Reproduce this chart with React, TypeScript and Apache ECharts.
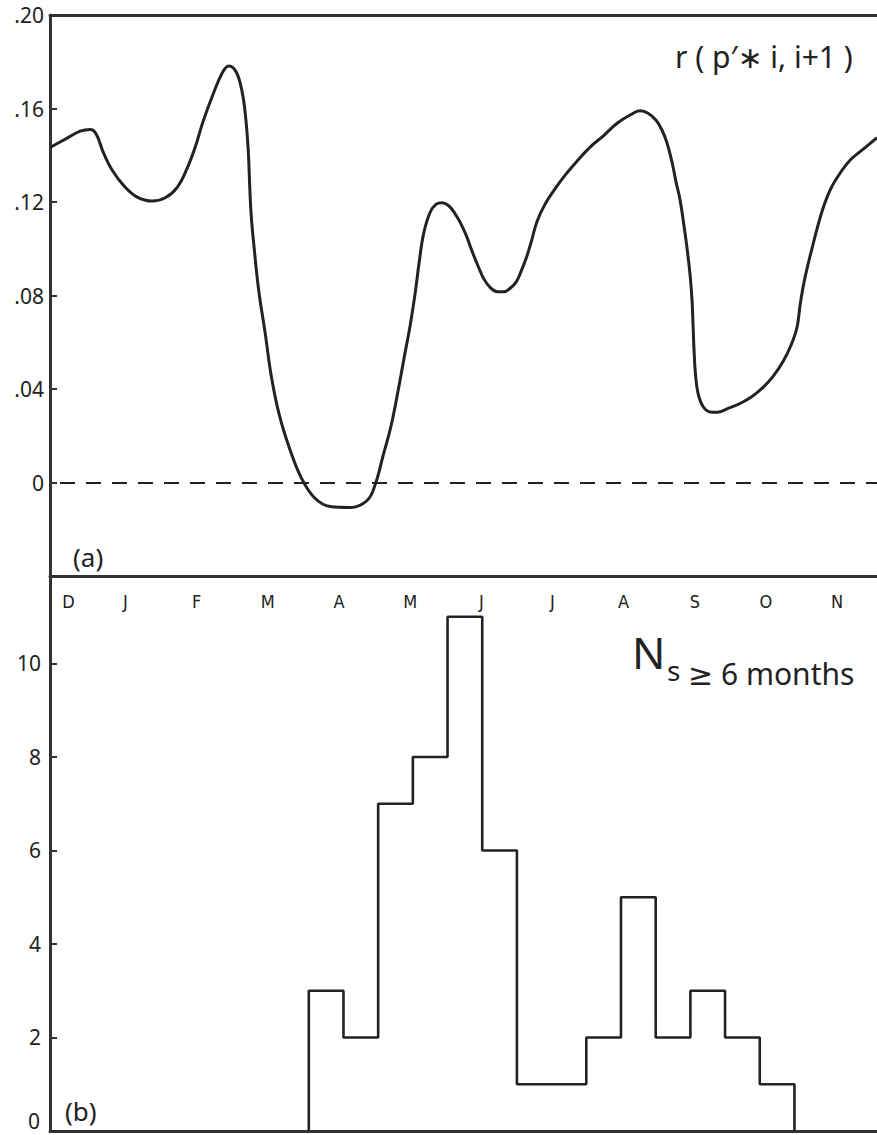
import React, { useEffect, useRef } from "react";
import * as echarts from "echarts";

// (a) Serial correlation r(p'*_{i,i+1}) traced along the year.
// x is measured in months counted from 1 December.
const corrMonth = [
  0.27, 0.504, 0.706, 0.85, 0.937, 1.037, 1.167, 1.34, 1.527, 1.744, 1.931,
  2.104, 2.248, 2.363, 2.478, 2.622, 2.752, 2.846, 2.954, 3.04, 3.091, 3.127,
  3.148, 3.17, 3.213, 3.278, 3.372, 3.458, 3.573, 3.718, 3.89, 4.078, 4.308,
  4.597, 4.841, 4.957, 5.072, 5.187, 5.288, 5.375, 5.461, 5.533, 5.591, 5.656,
  5.749, 5.836, 5.922, 6.009, 6.095, 6.182, 6.268, 6.354, 6.441, 6.527, 6.614,
  6.715, 6.816, 6.902, 6.988, 7.061, 7.133, 7.205, 7.291, 7.406, 7.536, 7.695,
  7.867, 8.055, 8.242, 8.444, 8.631, 8.775, 8.89, 9.006, 9.092, 9.164, 9.236,
  9.294, 9.352, 9.409, 9.452, 9.496, 9.524, 9.539, 9.553, 9.575, 9.611, 9.683,
  9.784, 9.885, 10.043, 10.216, 10.389, 10.548, 10.692, 10.836, 10.951, 11.037,
  11.081, 11.124, 11.182, 11.254, 11.34, 11.427, 11.527, 11.657, 11.801,
  11.974, 12.19,
];
const corrValue = [
  0.1433, 0.1471, 0.1503, 0.151, 0.149, 0.1413, 0.1336, 0.1268, 0.1221, 0.1204,
  0.1218, 0.1263, 0.1345, 0.1435, 0.1546, 0.1662, 0.1752, 0.1782, 0.1756,
  0.167, 0.1559, 0.1422, 0.1272, 0.1143, 0.1002, 0.0822, 0.0638, 0.0458,
  0.0291, 0.015, 0.0021, -0.0064, -0.0103, -0.0107, -0.0077, -0.0009, 0.0116,
  0.0244, 0.0394, 0.0535, 0.0672, 0.0809, 0.0942, 0.1066, 0.1156, 0.1191,
  0.1197, 0.1186, 0.1156, 0.1113, 0.1058, 0.0989, 0.0925, 0.0869, 0.0835,
  0.0816, 0.0816, 0.0831, 0.0857, 0.0904, 0.0959, 0.1028, 0.1118, 0.1191,
  0.1251, 0.1315, 0.1375, 0.1435, 0.1482, 0.1537, 0.1572, 0.159, 0.158, 0.155,
  0.1507, 0.1452, 0.137, 0.1285, 0.1208, 0.1096, 0.1002, 0.0887, 0.0779,
  0.0672, 0.0565, 0.0458, 0.0381, 0.0325, 0.0302, 0.0301, 0.0317, 0.0338,
  0.0368, 0.0407, 0.0454, 0.0518, 0.0587, 0.0664, 0.0758, 0.0835, 0.0916,
  0.1002, 0.1101, 0.1186, 0.1259, 0.1323, 0.1379, 0.1422, 0.1475,
];

// (b) Half-monthly counts of N_s >= 6 months, first bin starting 1 April.
const countStartMonth = 4;
const countBinWidth = 0.5;
const counts = [3, 2, 7, 8, 11, 6, 1, 1, 2, 5, 2, 3, 2, 1];

// Month initials along the top of panel (b).
const monthLabels = ["D", "J", "F", "M", "A", "M", "J", "J", "A", "S", "O", "N"];
const monthLabelAt = [0.2, 1, 2, 3, 4, 5, 6, 7, 8, 9, 10, 11];

const xMin = 0.27;
const xMax = 12.19;
const countMax = 11.87;

const INK = "#222";
const AXIS_INK = "#333";
const FONT = '"Noto Sans", "DejaVu Sans", sans-serif';

function buildOption() {
  const curve = corrMonth.map((m, i) => [m, corrValue[i]]);
  const steps: number[][] = [[countStartMonth, 0]];
  counts.forEach((c, i) => steps.push([countStartMonth + i * countBinWidth, c]));
  steps.push([countStartMonth + counts.length * countBinWidth, 0]);

  const frameLine = { show: true, onZero: false, lineStyle: { color: AXIS_INK, width: 3 } };
  const plainX = {
    type: "value",
    min: xMin,
    max: xMax,
    axisTick: { show: false },
    axisLabel: { show: false },
    splitLine: { show: false },
  };
  const tick = { show: true, inside: true, length: 7, lineStyle: { color: AXIS_INK, width: 2 } };

  return {
    animation: false,
    backgroundColor: "#fff",
    grid: [
      { left: 50, right: 0, top: 15, height: 561 },
      { left: 50, right: 0, top: 576, height: 555 },
    ],
    xAxis: [
      { ...plainX, gridIndex: 0, position: "bottom", axisLine: frameLine },
      { ...plainX, gridIndex: 0, position: "top", axisLine: frameLine },
      { ...plainX, gridIndex: 1, position: "bottom", axisLine: frameLine },
      {
        gridIndex: 1,
        type: "value",
        position: "top",
        min: -0.06,
        max: 11.56,
        axisLine: { show: false },
        axisTick: { show: false },
        splitLine: { show: false },
        axisLabel: {
          inside: true,
          margin: 16,
          customValues: monthLabelAt,
          formatter: (v: number) => monthLabels[Math.round(v)] ?? "",
          color: INK,
          fontSize: 18,
          fontFamily: '"Liberation Sans Narrow", "DejaVu Sans Condensed", "Noto Sans", sans-serif',
        },
      },
    ],
    yAxis: [
      {
        gridIndex: 0,
        type: "value",
        position: "left",
        min: -0.04,
        max: 0.2,
        interval: 0.04,
        axisLine: frameLine,
        axisTick: tick,
        splitLine: { show: false },
        axisLabel: {
          margin: 6,
          color: INK,
          fontSize: 21,
          fontFamily: FONT,
          formatter: (v: number) => {
            if (v < -1e-9) return "";
            if (Math.abs(v) < 1e-9) return "0";
            return v.toFixed(2).replace(/^0/, "");
          },
        },
      },
      {
        gridIndex: 1,
        type: "value",
        position: "left",
        min: 0,
        max: countMax,
        interval: 2,
        axisLine: frameLine,
        axisTick: tick,
        splitLine: { show: false },
        axisLabel: {
          margin: 9,
          color: INK,
          fontSize: 21,
          fontFamily: FONT,
          showMaxLabel: false,
          formatter: (v: number) => (Math.abs(v % 2) > 1e-9 || v === 0 ? "" : String(v)),
        },
      },
      {
        // the zero label of panel (b) sits just above the bottom frame
        gridIndex: 1,
        type: "value",
        position: "left",
        offset: 0,
        min: 0,
        max: countMax,
        axisLine: { show: false },
        axisTick: { show: false },
        splitLine: { show: false },
        axisLabel: {
          margin: 10,
          color: INK,
          fontSize: 21,
          fontFamily: FONT,
          verticalAlign: "bottom",
          customValues: [0],
          formatter: (v: number) => String(v),
        },
      },
    ],
    series: [
      {
        type: "line",
        xAxisIndex: 0,
        yAxisIndex: 0,
        data: curve,
        smooth: 0.4,
        showSymbol: false,
        lineStyle: { color: INK, width: 3 },
        markLine: {
          silent: true,
          symbol: ["none", "none"],
          label: { show: false },
          lineStyle: { color: INK, width: 2, type: [15, 11], dashOffset: 16 },
          data: [{ yAxis: 0 }],
        },
      },
      {
        type: "line",
        xAxisIndex: 2,
        yAxisIndex: 1,
        data: steps,
        step: "end",
        showSymbol: false,
        lineStyle: { color: INK, width: 2.6 },
      },
    ],
    graphic: [
      {
        type: "text",
        style: { x: 675, y: 56, text: "r ( p′∗ i, i+1 )", font: `30px ${FONT}`, fill: INK, textVerticalAlign: "middle" },
      },
      {
        type: "text",
        style: { x: 632, y: 652, text: "N", font: `44px ${FONT}`, fill: INK, textVerticalAlign: "middle" },
      },
      {
        type: "text",
        style: { x: 667, y: 670, text: "s", font: `28px ${FONT}`, fill: INK, textVerticalAlign: "middle" },
      },
      {
        type: "text",
        style: { x: 688, y: 673, text: "≥ 6 months", font: `30px ${FONT}`, fill: INK, textVerticalAlign: "middle" },
      },
      {
        type: "text",
        style: { x: 73, y: 557, text: "(a)", font: `26px ${FONT}`, fill: INK, textVerticalAlign: "middle" },
      },
      {
        type: "text",
        style: { x: 65, y: 1111, text: "(b)", font: `26px ${FONT}`, fill: INK, textVerticalAlign: "middle" },
      },
    ],
  };
}

export default function App() {
  const ref = useRef<HTMLDivElement | null>(null);
  useEffect(() => {
    if (!ref.current) return;
    const chart = echarts.init(ref.current, null, { renderer: "svg" });
    chart.setOption(buildOption() as any);
    return () => chart.dispose();
  }, []);
  return (
    <div
      ref={ref}
      style={{ position: "absolute", left: 0, top: 0, width: 877, height: 1135, background: "#fff" }}
    />
  );
}
